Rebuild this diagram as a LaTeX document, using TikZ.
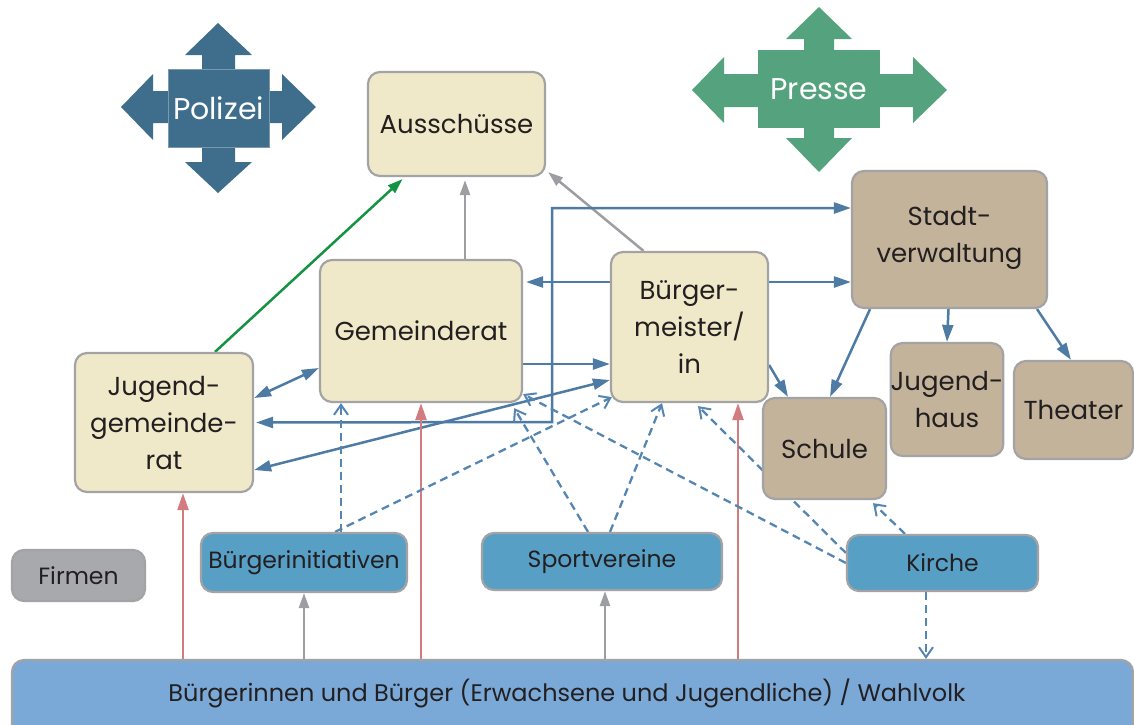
\documentclass[tikz,border=0pt]{standalone}
\usepackage{fontspec}
\setmainfont{Poppins}
\usetikzlibrary{arrows.meta,backgrounds}
\definecolor{txt}{HTML}{231F20}
\definecolor{bord}{HTML}{A3A3A6}
\definecolor{cream}{HTML}{F0E9C9}
\definecolor{tan}{HTML}{C3B39A}
\definecolor{midblue}{HTML}{589FC6}
\definecolor{barblue}{HTML}{7AA9D8}
\definecolor{firmgray}{HTML}{A8A9AD}
\definecolor{polcol}{HTML}{3F6D8C}
\definecolor{prcol}{HTML}{55A37E}
\definecolor{lineblue}{HTML}{4E7BA3}
\definecolor{dashblue}{HTML}{5586B2}
\definecolor{linegray}{HTML}{9D9EA1}
\definecolor{linered}{HTML}{D27C80}
\definecolor{linegreen}{HTML}{149442}
\tikzset{
  tri/.tip={Triangle[length=17pt,width=11pt]},
  trig/.tip={Triangle[length=15pt,width=10pt]},
  barb/.tip={Straight Barb[length=10pt,width=14pt,line width=2pt]},
  box/.style={draw=bord, line width=2.2pt, rounded corners=12pt, inner sep=0pt,
    align=center, text=txt, font=\fontsize{26}{37}\selectfont},
  creambox/.style={box, fill=cream},
  tanbox/.style={box, fill=tan},
  orgbox/.style={box, fill=midblue, font=\fontsize{23.5}{28}\selectfont},
  firmbox/.style={box, fill=firmgray, font=\fontsize{23.5}{28}\selectfont},
  barbox/.style={box, fill=barblue},
  bigarrowtext/.style={text=white, inner sep=0pt, font=\fontsize{30}{34}\selectfont},
  bline/.style={draw=lineblue, line width=2.5pt},
  gline/.style={draw=linegray, line width=2.5pt, arrows={-trig}},
  rline/.style={draw=linered, line width=2.5pt, arrows={-tri}},
  grline/.style={draw=linegreen, line width=2.5pt, arrows={-trig}},
  dline/.style={draw=dashblue, line width=2.3pt, dash pattern=on 8pt off 5pt, arrows={-barb}},
}
\begin{document}
\begin{tikzpicture}[x=1pt,y=-1pt]
\useasboundingbox (0,0) rectangle (1134,724);
\clip (0,0) rectangle (1134,724);

% Polizei
\fill[polcol] (202,69) -- (202,55) -- (185,55) -- (218,23) -- (252,55) -- (235,55) -- (235,69) -- cycle;
\fill[polcol] (202,147) -- (202,162) -- (185,162) -- (218,193) -- (252,162) -- (235,162) -- (235,147) -- cycle;
\fill[polcol] (168,91) -- (153,91) -- (153,74) -- (121,107) -- (153,140) -- (153,123) -- (168,123) -- cycle;
\fill[polcol] (269,91) -- (282,91) -- (282,74) -- (316,107) -- (282,140) -- (282,123) -- (269,123) -- cycle;
\node[bigarrowtext, fill=polcol, draw=polcol!70!white, line width=0.6pt, minimum width=101pt, minimum height=78pt] (polizei) at (218.5,108) {Polizei};

% Presse
\fill[prcol] (804,50) -- (804,39) -- (786,39) -- (819,7) -- (852,39) -- (834,39) -- (834,50) -- cycle;
\fill[prcol] (804,128) -- (804,138) -- (786,138) -- (819,172) -- (852,138) -- (834,138) -- (834,128) -- cycle;
\fill[prcol] (758,74) -- (724,74) -- (724,57) -- (692,90) -- (724,123) -- (724,107) -- (758,107) -- cycle;
\fill[prcol] (880,74) -- (913,74) -- (913,57) -- (947,90) -- (913,123) -- (913,107) -- (880,107) -- cycle;
\node[bigarrowtext, fill=prcol, minimum width=122pt, minimum height=78pt] (presse) at (819,89) {Presse};

% Nodes
\node[creambox, minimum width=177pt, minimum height=104pt] (aus) at (456.5,124) {Ausschüsse};
\node[creambox, minimum width=202pt, minimum height=142pt] (gem) at (421,331) {Gemeinderat};
\node[creambox, minimum width=157pt, minimum height=150pt] (bgm) at (689.5,327) {Bürger-\\meister/\\in};
\node[creambox, minimum width=178pt, minimum height=139pt] (jgr) at (164,422.5) {Jugend-\\gemeinde-\\rat};
\node[tanbox, minimum width=195pt, minimum height=137pt, text depth=10pt] (sv) at (949.5,239.5) {Stadt-\\verwaltung};
\node[tanbox, minimum width=123pt, minimum height=101pt] (schule) at (824.5,448.5) {Schule};
\node[tanbox, minimum width=110pt, minimum height=113pt] (jh) at (947,399.5) {Jugend-\\haus};
\node[tanbox, minimum width=119pt, minimum height=98pt] (th) at (1073.5,410) {Theater};
\node[firmbox, minimum width=133pt, minimum height=51pt] (firm) at (78.5,575.5) {Firmen};
\node[orgbox, minimum width=206pt, minimum height=59pt] (bi) at (304,562.5) {Bürgerinitiativen};
\node[orgbox, minimum width=240pt, minimum height=57pt] (sport) at (602,561.5) {Sportvereine};
\node[orgbox, minimum width=191pt, minimum height=56pt] (kirche) at (942.5,563) {Kirche};
\node[barbox, minimum width=1121pt, minimum height=85pt] (bar) at (572.5,702.5) {};
\node[inner sep=0pt, text=txt, font=\fontsize{24}{28}\selectfont] (bartext) at (567,693) {Bürgerinnen und Bürger (Erwachsene und Jugendliche) / Wahlvolk};

\coordinate (c1) at (552,208);
\coordinate (c2) at (552,422);

\begin{scope}[on background layer]
% green and gray
\draw[grline] ([xshift=51pt]jgr.north) -- ([xshift=-54pt,yshift=-2pt]aus.south);
\draw[gline] ([xshift=44pt]gem.north) -- ([xshift=8.5pt,yshift=-3pt]aus.south);
\draw[gline] ([xshift=-46pt]bgm.north) -- ([xshift=2pt,yshift=5pt]aus.south east);
% blue solid
\draw[bline, arrows={-tri}] ([yshift=45pt]bgm.west) -- ([xshift=3pt,yshift=49pt]gem.east);
\draw[bline, arrows={-tri}] ([yshift=-33pt]gem.east) -- ([yshift=-37pt]bgm.west);
\draw[bline, arrows={tri-tri}] ([xshift=2pt]jgr.east) -- (c2) -- (c1) -- ([yshift=31.5pt]sv.west);
\draw[bline, arrows={-tri}] ([yshift=45pt]bgm.east) -- ([yshift=-42.5pt]sv.west);
\draw[bline, arrows={tri-tri}] ([yshift=24.5pt]jgr.east) -- ([yshift=-37pt]gem.west);
\draw[bline, arrows={tri-tri}] ([yshift=-47.5pt]jgr.east) -- ([yshift=-53pt]bgm.west);
\draw[bline, arrows={-tri}] ([yshift=-38pt]bgm.east) -- ([xshift=-36.5pt]schule.north);
\draw[bline, arrows={-tri}] ([xshift=-79.5pt]sv.south) -- ([xshift=5.5pt]schule.north);
\draw[bline, arrows={-tri}] ([xshift=-1pt]sv.south) -- (jh.north);
\draw[bline, arrows={-tri}] ([xshift=87.5pt]sv.south) -- ([xshift=-2.5pt]th.north);
% red
\draw[rline] ([xshift=-389.5pt]bar.north) -- ([xshift=19pt]jgr.south);
\draw[rline] ([xshift=-151.5pt]bar.north) -- (gem.south);
\draw[rline] ([xshift=165.5pt]bar.north) -- ([xshift=48.5pt]bgm.south);
% gray from bar
\draw[gline] ([xshift=-268.5pt]bar.north) -- (bi.south);
\draw[gline] ([xshift=32.5pt]bar.north) -- ([xshift=3pt]sport.south);
% dashed
\draw[dline] ([xshift=37pt]bi.north) -- ([xshift=-80pt]gem.south);
\draw[dline] ([xshift=31pt]bi.north) -- ([xshift=2pt,yshift=6pt]bgm.south west);
\draw[dline] ([xshift=-14pt]sport.north) -- ([xshift=-9pt,yshift=-5pt]gem.south east);
\draw[dline] ([xshift=8pt]sport.north) -- ([xshift=-27.5pt]bgm.south);
\draw[dline] (kirche.west) -- ([yshift=9pt]gem.south east);
\draw[dline] ([yshift=10pt]kirche.west) -- ([xshift=8.5pt,yshift=-3pt]bgm.south);
\draw[dline] ([xshift=-37.5pt]kirche.north) -- ([xshift=48.5pt,yshift=-3pt]schule.south);
\draw[dline] ([xshift=-16.5pt]kirche.south) -- ([xshift=353.5pt]bar.north);
\end{scope}
\end{tikzpicture}
\end{document}
